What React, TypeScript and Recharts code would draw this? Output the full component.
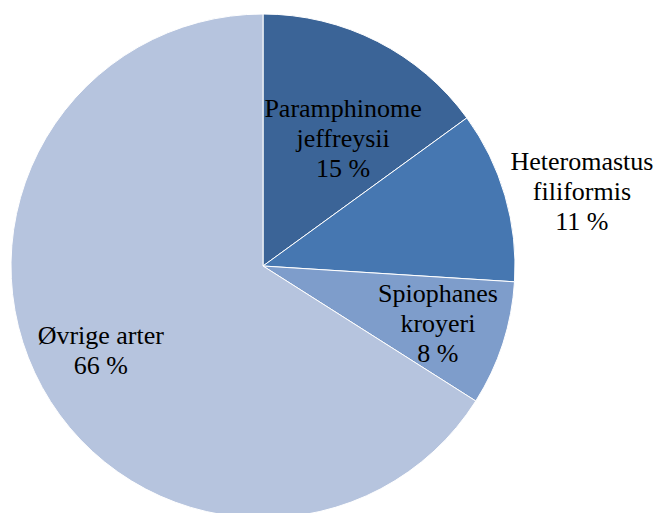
import { Cell, Pie, PieChart } from 'recharts'

// share of individuals per species (%)
const species = ['Paramphinome jeffreysii', 'Heteromastus filiformis', 'Spiophanes kroyeri', 'Øvrige arter']
const shares = [15, 11, 8, 66]
// how each label is broken into lines
const labelLines = [
  ['Paramphinome', 'jeffreysii'],
  ['Heteromastus', 'filiformis'],
  ['Spiophanes', 'kroyeri'],
  ['Øvrige arter'],
]
const colors = ['#3b6497', '#4677b1', '#7e9dcb', '#b6c4de']

// radial distance (fraction of outer radius) and angle nudge for each label
const labelRadius = [0.6, 1.3, 0.73, 0.725]
const labelShift = [-5, -3, 0, -1.4]

const RAD = Math.PI / 180
const LINE_HEIGHT = 30
const FONT = '"Liberation Serif", "Times New Roman", Times, serif'

interface LabelProps {
  cx: number
  cy: number
  midAngle: number
  outerRadius: number
  index: number
}

function SliceLabel({ cx, cy, midAngle, outerRadius, index }: LabelProps) {
  const angle = (midAngle + labelShift[index]) * RAD
  const r = outerRadius * labelRadius[index]
  const x = cx + r * Math.cos(angle)
  const y = cy - r * Math.sin(angle)
  const lines = [...labelLines[index], `${shares[index]} %`]
  const top = y - ((lines.length - 1) / 2) * LINE_HEIGHT + 9
  return (
    <text
      x={x}
      y={top}
      textAnchor="middle"
      fill="#000"
      style={{ fontFamily: FONT, fontSize: 26 }}
    >
      {lines.map((line, i) => (
        <tspan key={i} x={x} y={top + i * LINE_HEIGHT}>
          {line}
        </tspan>
      ))}
    </text>
  )
}

export default function App() {
  const data = species.map((name, i) => ({ name, value: shares[i] }))

  return (
    <div style={{ position: 'absolute', left: 0, top: 0, width: 657, height: 513, background: '#fff', fontFamily: FONT }}>
      <PieChart width={657} height={513} margin={{ top: 0, right: 0, bottom: 0, left: 0 }}>
        <Pie
          data={data}
          dataKey="value"
          cx={263}
          cy={266}
          outerRadius={252}
          startAngle={90}
          endAngle={-270}
          stroke="#ffffff"
          strokeWidth={1}
          labelLine={false}
          label={(props: LabelProps) => <SliceLabel {...props} />}
          isAnimationActive={false}
        >
          {data.map((d, i) => (
            <Cell key={d.name} fill={colors[i]} />
          ))}
        </Pie>
      </PieChart>
    </div>
  )
}
